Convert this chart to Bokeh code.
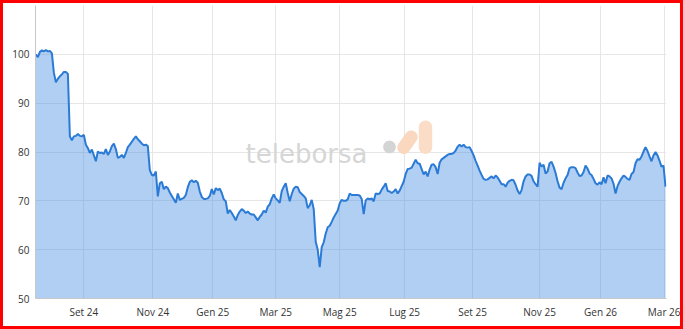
import math
from bokeh.plotting import figure
from bokeh.models import ColumnDataSource, FixedTicker, PolyAnnotation, Label
from bokeh.embed import file_html
from bokeh.resources import INLINE

# price, one reading per sample (sample index on x)
price = [
    100.0, 99.4, 100.5, 100.8, 100.6, 100.9, 100.6, 100.7, 100.2, 96.2,
    94.3, 95.0, 95.5, 95.9, 96.4, 96.4, 96.0, 83.2, 82.4, 83.2,
    83.3, 83.7, 83.3, 83.2, 83.5, 81.5, 80.8, 79.8, 80.5, 79.3,
    78.1, 80.1, 79.8, 79.9, 79.6, 80.6, 79.4, 80.1, 81.2, 81.7,
    80.6, 78.8, 79.0, 79.4, 78.8, 79.8, 81.0, 81.5, 82.1, 82.7,
    83.2, 82.6, 82.2, 81.7, 81.4, 81.5, 81.2, 76.3, 75.3, 75.2,
    76.0, 70.9, 73.6, 73.9, 72.4, 72.9, 72.6, 71.7, 71.0, 70.3,
    69.6, 71.5, 70.2, 70.4, 70.6, 71.2, 72.8, 73.9, 74.2, 73.8,
    74.1, 73.7, 71.9, 70.8, 70.4, 70.4, 70.5, 71.0, 72.4, 71.3,
    72.6, 72.2, 72.5, 71.6, 70.3, 69.9, 67.4, 68.1, 67.5, 66.8,
    66.0, 67.1, 67.8, 68.3, 68.0, 67.5, 67.8, 67.4, 67.2, 67.2,
    66.6, 66.0, 66.7, 67.2, 68.0, 67.6, 68.8, 69.3, 70.5, 71.3,
    70.5, 70.1, 69.6, 72.0, 72.9, 73.6, 71.6, 69.9, 71.4, 72.5,
    72.9, 72.8, 71.8, 71.4, 71.0, 70.5, 68.5, 69.1, 70.2, 68.3,
    61.6, 60.0, 56.4, 60.5, 61.5, 63.3, 64.6, 64.9, 65.7, 66.6,
    67.3, 68.0, 69.5, 70.2, 70.0, 70.0, 70.3, 71.5, 71.2, 71.2,
    71.2, 71.2, 71.1, 70.4, 67.3, 70.1, 70.5, 70.3, 70.5, 69.9,
    71.5, 71.4, 71.5, 72.3, 72.9, 73.6, 72.0, 71.9, 71.6, 71.9,
    72.4, 71.5, 72.1, 73.0, 73.9, 75.5, 76.5, 76.6, 76.8, 77.6,
    78.4, 77.7, 77.6, 76.5, 75.4, 76.0, 75.0, 76.4, 77.4, 77.5,
    76.9, 75.5, 77.8, 78.5, 78.8, 79.1, 79.4, 79.6, 79.6, 79.8,
    80.3, 81.1, 81.5, 81.1, 81.5, 81.0, 80.9, 81.0, 80.2, 79.3,
    78.2, 77.2, 76.2, 75.3, 74.5, 74.3, 74.4, 74.7, 75.0, 74.6,
    75.2, 74.8, 74.1, 73.4, 73.4, 72.9, 73.7, 74.1, 74.3, 74.2,
    73.3, 72.1, 71.4, 72.2, 74.0, 75.0, 75.4, 75.4, 75.1, 74.0,
    73.4, 72.9, 77.8, 77.0, 77.4, 75.6, 76.0, 77.7, 78.0, 77.0,
    75.7, 74.0, 72.7, 72.4, 73.7, 74.6, 75.3, 76.7, 76.9, 76.9,
    76.7, 75.8, 75.1, 75.2, 75.9, 77.2, 76.6, 75.6, 75.3, 74.5,
    73.6, 73.3, 73.8, 73.4, 74.8, 73.6, 75.2, 75.0, 74.6, 73.5,
    71.5, 73.0, 73.9, 74.6, 75.2, 74.9, 74.5, 74.3, 75.5, 75.9,
    77.7, 78.5, 78.4, 79.1, 80.1, 81.0, 80.2, 79.1, 78.1, 79.3,
    80.0, 79.3, 78.2, 77.0, 77.2, 72.9,
]
sample = list(range(len(price)))

month_labels = ["Set 24", "Nov 24", "Gen 25", "Mar 25", "Mag 25",
                "Lug 25", "Set 25", "Nov 25", "Gen 26", "Mar 26"]
month_ticks = [24, 58.5, 88.5, 120, 152, 184.5, 218.5, 252, 282.5, 314.5]
y_ticks = [50, 60, 70, 80, 90, 100, 110]

src = ColumnDataSource(data=dict(x=sample, y=price))

p = figure(width=683, height=329, output_backend="svg", toolbar_location=None,
           x_range=(-0.2, len(price) - 0.5), y_range=(50, 110),
           min_border_left=32, min_border_right=20, min_border_top=2,
           min_border_bottom=34, background_fill_color="white",
           border_fill_color="white")
p.styles = {"border": "3px solid #ff0000"}
p.outline_line_color = None

p.varea(x="x", y1=50, y2="y", source=src, fill_color="#3a87e1", fill_alpha=0.4)
p.line(x="x", y="y", source=src, line_color="#2b7bd6", line_width=2)

p.xaxis.ticker = FixedTicker(ticks=month_ticks)
p.xaxis.major_label_overrides = {t: l for t, l in zip(month_ticks, month_labels)}
p.yaxis.ticker = FixedTicker(ticks=y_ticks)
p.yaxis.major_label_overrides = {110: ""}

for ax in (p.xaxis, p.yaxis):
    ax.major_tick_line_color = None
    ax.minor_tick_line_color = None
    ax.major_tick_out = 0
    ax.major_tick_in = 0
    ax.axis_line_color = "#c8c8c8"
    ax.major_label_text_font = "Open Sans"
    ax.major_label_text_font_size = "10px"
    ax.major_label_text_color = "#333333"
    ax.major_label_standoff = 6
p.yaxis.major_label_text_baseline = "alphabetic"

p.xgrid.grid_line_color = "#e6e6e6"
p.ygrid.grid_line_color = "#e6e6e6"

# watermark (screen units, relative to the plot frame)
FL, FB = 35, 298


def capsule(x0, y0, x1, y1, r, n=14):
    th = math.atan2(y1 - y0, x1 - x0)
    xs, ys = [], []
    for i in range(n + 1):
        a = th - math.pi / 2 + math.pi * i / n
        xs.append(x1 + r * math.cos(a)); ys.append(y1 + r * math.sin(a))
    for i in range(n + 1):
        a = th + math.pi / 2 + math.pi * i / n
        xs.append(x0 + r * math.cos(a)); ys.append(y0 + r * math.sin(a))
    return [x - FL for x in xs], [FB - y for y in ys]


for (x0, y0, x1, y1, r, col) in [
    (389, 146.5, 389, 146.5, 6.3, "#d4d4d4"),
    (403.3, 147, 410.7, 136.5, 6.5, "#f9d8bf"),
    (425, 146.7, 425, 126.7, 6.7, "#fbdcc6"),
]:
    xs, ys = capsule(x0, y0, x1, y1, r)
    p.add_layout(PolyAnnotation(xs=xs, ys=ys, xs_units="screen", ys_units="screen",
                                fill_color=col, fill_alpha=1, line_color=None,
                                level="underlay"))

p.add_layout(Label(x=245 - FL, y=FB - 153.5, x_units="screen", y_units="screen",
                   text="teleborsa", text_font="DejaVu Sans",
                   text_font_size="26px", text_color="#d6d6d6",
                   text_align="left", text_baseline="alphabetic", level="underlay"))

open("out.html", "w").write(file_html(p, INLINE))
